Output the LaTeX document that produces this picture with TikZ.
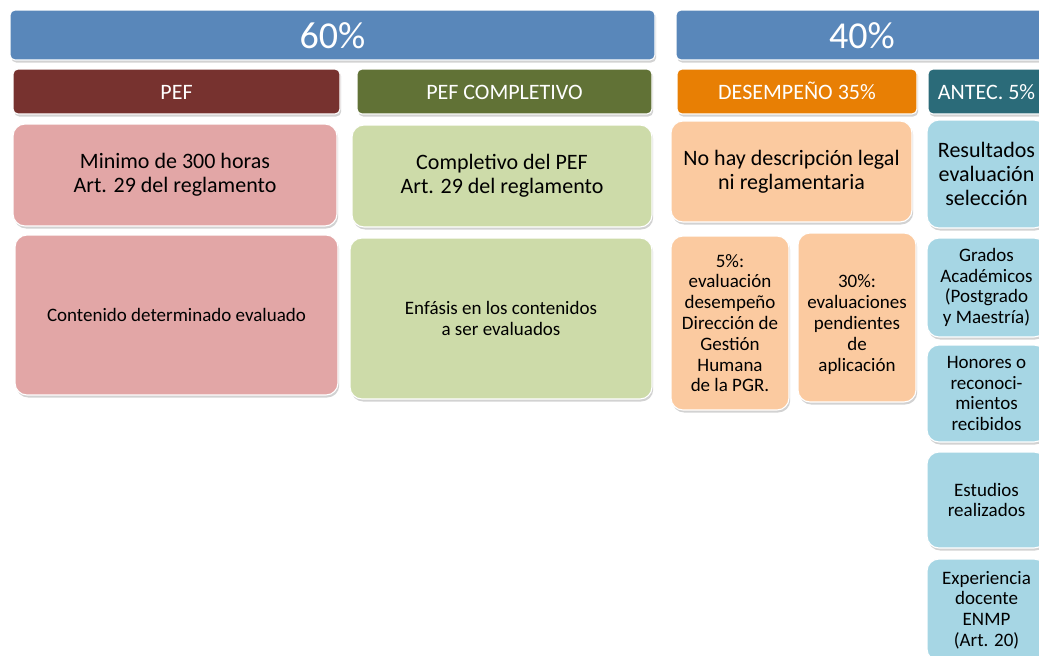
\documentclass[tikz,border=0pt]{standalone}
\usepackage{fontspec}
\setmainfont{Carlito}
\usetikzlibrary{shadows}
\definecolor{barblue}{HTML}{5987BA}
\definecolor{pefred}{HTML}{77322F}
\definecolor{pefgreen}{HTML}{617236}
\definecolor{desorange}{HTML}{E87F04}
\definecolor{antteal}{HTML}{2B6B79}
\definecolor{lpink}{HTML}{E2A6A6}
\definecolor{lgreen}{HTML}{CDDBA9}
\definecolor{lorange}{HTML}{FBCAA0}
\definecolor{lblue}{HTML}{A6D6E4}
\tikzset{
  base/.style={draw=white, line width=1.1pt, align=center, inner sep=2pt,
    drop shadow={opacity=0.35, shadow xshift=1.2pt, shadow yshift=-2.5pt}},
  topbar/.style={base, fill=barblue, rounded corners=5pt, text=white,
    font=\fontsize{38}{40}\selectfont, minimum height=50pt,
    text height=26pt, text depth=0pt},
  headbox/.style={base, rounded corners=5pt, text=white,
    font=\fontsize{22}{24}\selectfont, minimum height=45pt,
    text height=15pt, text depth=0pt},
  bigbox/.style={base, rounded corners=12pt, text=black,
    font=\fontsize{22}{24}\selectfont},
  smallbox/.style={base, rounded corners=12pt, text=black,
    font=\fontsize{19}{20.8}\selectfont},
  smalltext/.style={align=center, text=black, font=\fontsize{19}{20.8}\selectfont},
}
\begin{document}
\begin{tikzpicture}[x=1pt,y=-1pt]
\useasboundingbox (0,0) rectangle (1039,656);
\clip (0,0) rectangle (1039,656);
\fill[white] (0,0) rectangle (1039,656);
% top bars
\node[topbar, minimum width=645pt] (b60) at (332.5,35) {60\%};
\node[topbar, minimum width=372pt] (b40) at (862,35) {40\%};
% headers
\node[headbox, fill=pefred, minimum width=327pt] (hpef) at (176.5,91.5) {PEF};
\node[headbox, fill=pefgreen, minimum width=295pt] (hpefc) at (504.5,91.5) {PEF COMPLETIVO};
\node[headbox, fill=desorange, minimum width=240pt] (hdes) at (797,91.5) {DESEMPEÑO 35\%};
\node[headbox, fill=antteal, minimum width=117pt] (hant) at (986.5,91.5) {ANTEC. 5\%};
% PEF column
\node[bigbox, fill=lpink, minimum width=324pt, minimum height=102pt] (p1) at (175,175)
  {Minimo de 300 horas\\Art. 29 del reglamento};
\node[smallbox, fill=lpink, minimum width=323pt, minimum height=160pt] (p2) at (176.5,315)
  {Contenido determinado evaluado};
% PEF completivo column
\node[bigbox, fill=lgreen, minimum width=300pt, minimum height=102pt] (g1) at (502,176)
  {Completivo del PEF\\Art. 29 del reglamento};
\node[smallbox, fill=lgreen, minimum width=302pt, minimum height=161pt] (g2) at (501,318.5)
  {Enfásis en los contenidos\\a ser evaluados};
% Desempeño column
\node[bigbox, fill=lorange, minimum width=241pt, minimum height=101pt] (o1) at (791.5,171.5)
  {No hay descripción legal\\ni reglamentaria};
\node[smallbox, fill=lorange, minimum width=118pt, minimum height=174pt] (o2a) at (730,323)
  {5\%:\\evaluación\\desempeño\\Dirección de\\Gestión\\Humana\\de la PGR.};
\node[smallbox, fill=lorange, minimum width=118pt, minimum height=169pt] (o2b) at (857,317.5) {};
\node[smalltext] (o2bt) at ([yshift=-7pt]o2b.center)
  {30\%:\\evaluaciones\\pendientes\\de\\aplicación};
% Antecedentes column
\node[bigbox, fill=lblue, minimum width=119pt, minimum height=108pt] (c1) at (986.5,174)
  {Resultados\\evaluación\\selección};
\node[smallbox, fill=lblue, minimum width=119pt, minimum height=99pt] (c2) at (986.5,287.5)
  {Grados\\Académicos\\(Postgrado\\y Maestría)};
\node[smallbox, fill=lblue, minimum width=119pt, minimum height=97pt] (c3) at (986.5,393.5)
  {Honores o\\reconoci-\\mientos\\recibidos};
\node[smallbox, fill=lblue, minimum width=119pt, minimum height=96pt] (c4) at (986.5,500)
  {Estudios\\realizados};
\node[smallbox, fill=lblue, minimum width=119pt, minimum height=102pt] (c5) at (986.5,610)
  {Experiencia\\docente\\ENMP\\(Art. 20)};
\end{tikzpicture}
\end{document}
